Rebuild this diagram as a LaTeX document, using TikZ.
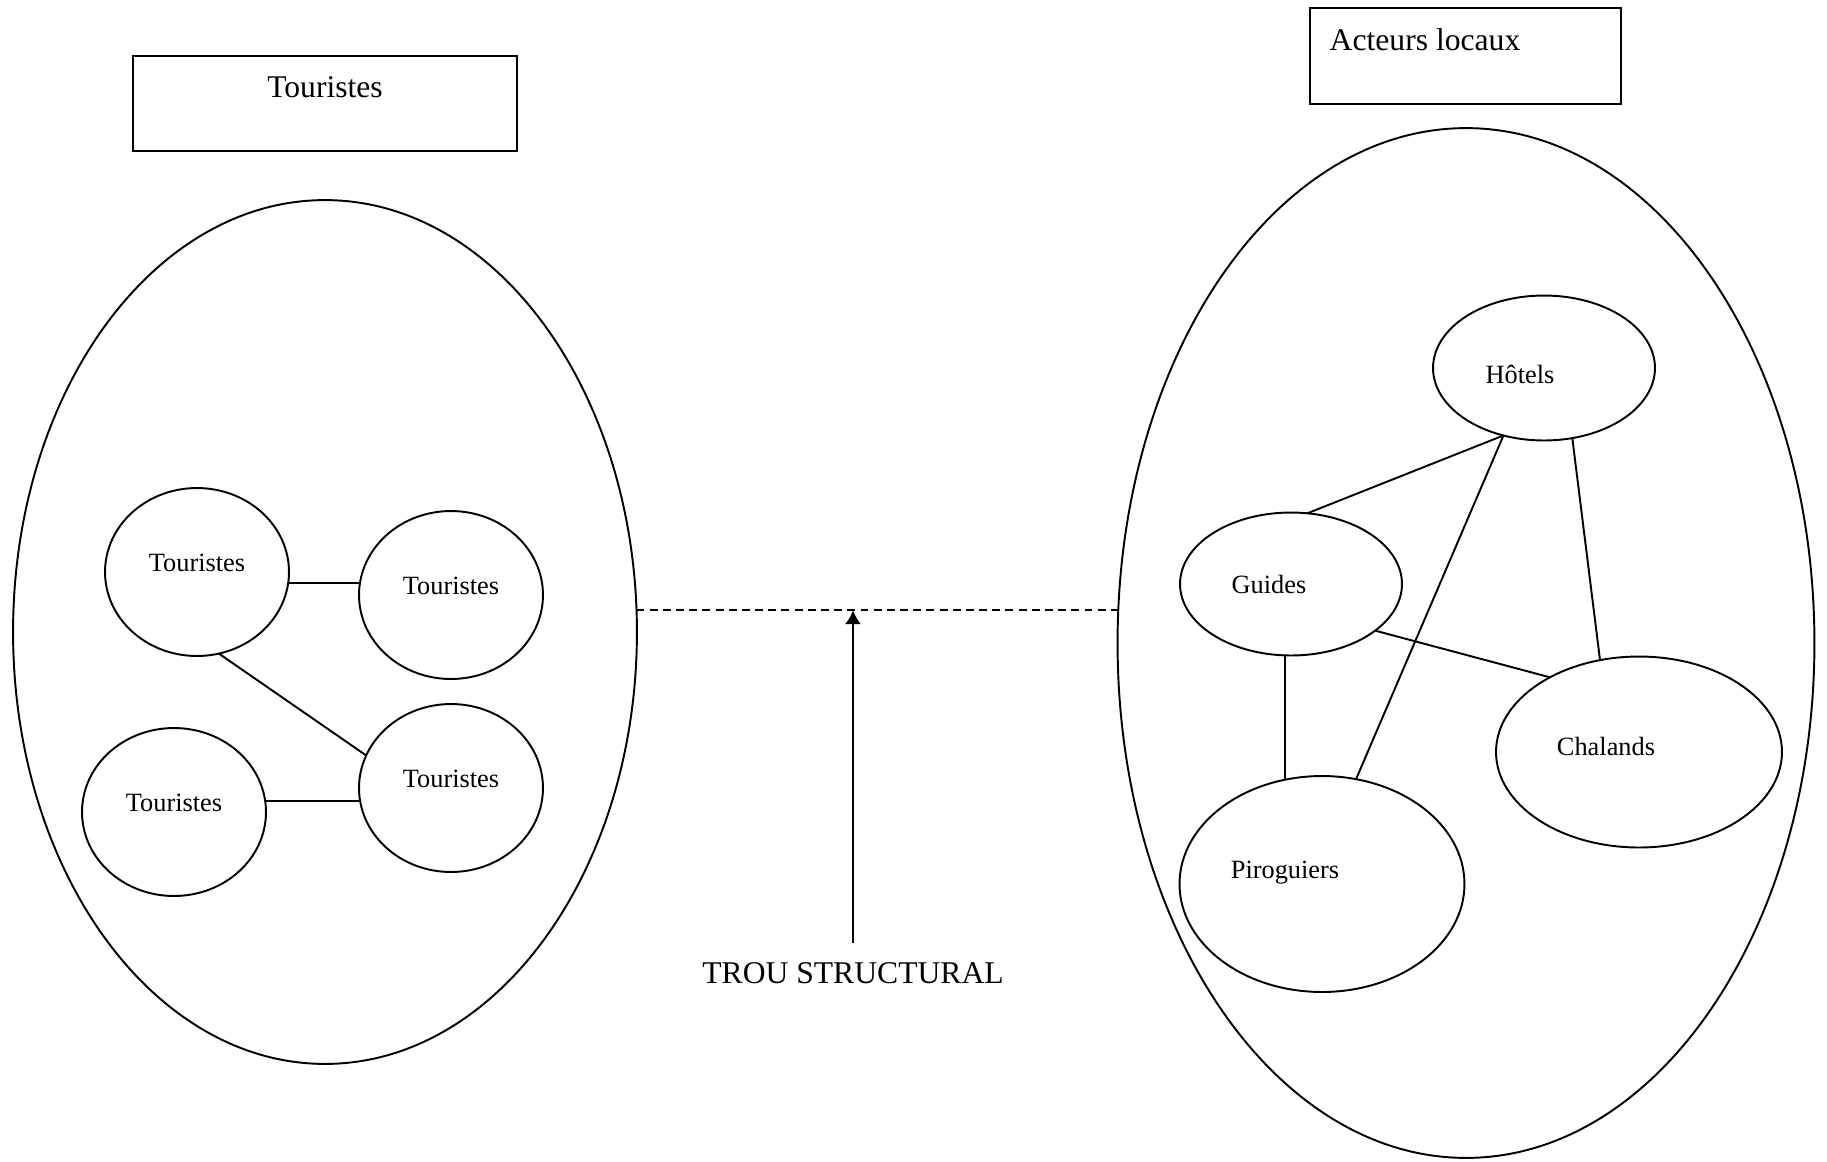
\documentclass[tikz,border=0pt]{standalone}
\usepackage{fontspec}
\setmainfont{Liberation Serif}
\usetikzlibrary{shapes.geometric,arrows.meta}
\tikzset{
  grp/.style    = {draw, ellipse, line width=1.1pt, inner sep=0pt, outer sep=0pt},
  acteur/.style = {grp},
  titre/.style  = {draw, rectangle, line width=1.1pt, inner sep=0pt},
  petit/.style  = {font=\fontsize{15}{18}\selectfont},
  grand/.style  = {font=\fontsize{18}{22}\selectfont},
  lien/.style   = {line width=1.1pt}
}

\begin{document}
\begin{tikzpicture}[x=0.02cm, y=-0.02cm, >=Latex]
\useasboundingbox (0,0) rectangle (1827,1161);

% the two group titles
\node[titre, minimum width=7.68cm, minimum height=1.9cm,
  label={[grand, yshift=0.33cm]center:Touristes}] (titreT) at (325,103.5) {};
\node[titre, minimum width=6.22cm, minimum height=1.92cm,
  label={[grand, xshift=-0.81cm, yshift=0.32cm]center:Acteurs locaux}] (titreA) at (1465.5,56) {};

% the two groups
\node[grp, minimum width=12.48cm, minimum height=17.28cm] (grpT) at (325,632) {};
\node[grp, minimum width=13.94cm, minimum height=20.6cm] (grpA) at (1466,643) {};

% tourists, left group
\foreach \n/\x/\y in {t1/197/572, t2/451/595, t3/174/812, t4/451/788}
  \node[acteur, minimum width=3.68cm, minimum height=3.36cm,
    label={[petit, yshift=0.18cm]center:Touristes}] (\n) at (\x,\y) {};

% local actors, right group
\node[acteur, minimum width=4.44cm, minimum height=2.9cm,
  label={[petit, xshift=-0.48cm, yshift=-0.12cm]center:Hôtels}] (hotels) at (1544,368) {};
\node[acteur, minimum width=4.44cm, minimum height=2.86cm,
  label={[petit, xshift=-0.44cm]center:Guides}] (guides) at (1291,584) {};
\node[acteur, minimum width=5.72cm, minimum height=3.82cm,
  label={[petit, xshift=-0.66cm, yshift=0.12cm]center:Chalands}] (chalands) at (1639,752) {};
\node[acteur, minimum width=5.7cm, minimum height=4.32cm,
  label={[petit, xshift=-0.74cm, yshift=0.22cm]center:Piroguiers}] (pirog) at (1322,884) {};

% ties inside each group
\draw[lien] (t1.353) -- (t1.353 -| t2.west);
\draw[lien] (t3.7) -- (t3.7 -| t4.west);
\draw[lien] (t1.285) -- (t4.159);

\foreach \a/\b in {hotels.239/guides.77, hotels.239/pirog.72, hotels.292/chalands.113,
                   guides.331/chalands.140}
  \draw[lien] (\a) -- (\b);
\draw[lien] (guides.265) -- (guides.265 |- pirog.109);

% the gap between the groups
\draw[lien, dash pattern=on 4.5pt off 3pt] (grpT.4) -- (grpT.4 -| grpA.west);

\node[grand, inner sep=0.38cm] (trou) at (853,973) {TROU STRUCTURAL};
\draw[lien, -{Latex[length=0.28cm, width=0.32cm]}] (trou.north) -- (trou.north |- grpT.4);
\end{tikzpicture}
\end{document}
